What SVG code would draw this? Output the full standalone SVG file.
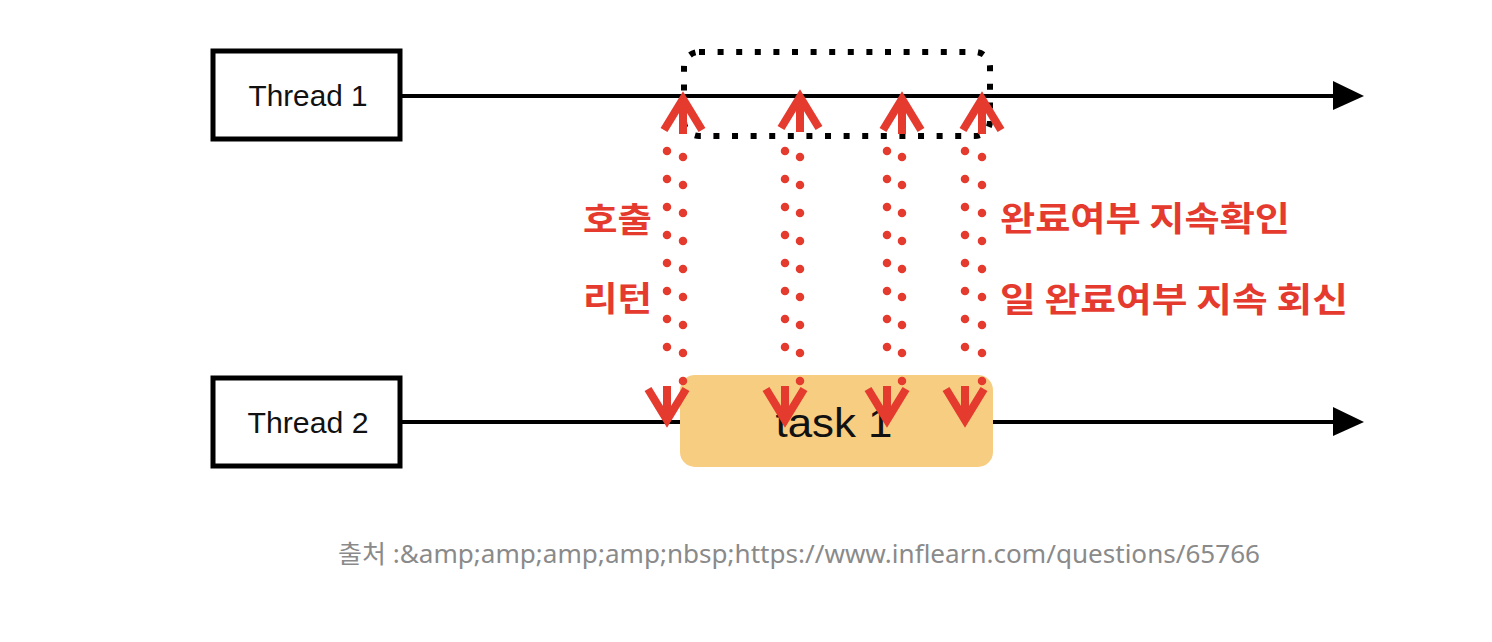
<svg xmlns="http://www.w3.org/2000/svg" width="1492" height="642" viewBox="0 0 1492 642">
<defs>
<style>
.box{fill:#fff;stroke:#000;stroke-width:5}
.tl{font-family:"Liberation Sans",Arial,sans-serif;fill:#111;text-anchor:middle}
.th{stroke:#000;stroke-width:4;fill:none}
.dotr{stroke:#e53a2e;stroke-width:8.5;stroke-linecap:round;stroke-dasharray:0 28;fill:none}
.head{stroke:#e53a2e;stroke-width:8;fill:none;stroke-linejoin:miter}
.lbl{font-family:"Noto Sans CJK KR","Noto Sans",sans-serif;font-weight:bold;font-size:34px;fill:#e53a2e}
</style>
</defs>
<rect width="1492" height="642" fill="#fff"/>
<g id="thread1-line">
<line class="th" x1="400" y1="96" x2="1336" y2="96"/>
<polygon points="1333,81 1364,96 1333,110" fill="#000"/>
</g>
<g id="thread2-line">
<line class="th" x1="400" y1="422" x2="1336" y2="422"/>
<polygon points="1333,407 1364,422 1333,436" fill="#000"/>
</g>
<g id="thread1">
<rect class="box" x="213" y="51" width="187" height="88"/>
<text class="tl" x="308" y="106" font-size="30" textLength="119" lengthAdjust="spacingAndGlyphs">Thread 1</text>
</g>
<g id="thread2">
<rect class="box" x="213" y="378" width="187" height="88"/>
<text class="tl" x="308" y="433" font-size="30" textLength="121" lengthAdjust="spacingAndGlyphs">Thread 2</text>
</g>
<g id="polling-window">
<rect x="684" y="52" width="306" height="84" rx="15" fill="none" stroke="#000" stroke-width="6" stroke-dasharray="6 12.6"/>
</g>
<g id="task1">
<rect x="680" y="375" width="313" height="92" rx="15" fill="#f7cd82"/>
<text class="tl" x="834" y="437" font-size="40" textLength="117" lengthAdjust="spacingAndGlyphs">task 1</text>
</g>
<g id="connectors">
<line class="dotr" x1="683" y1="157" x2="683" y2="409"/>
<path class="head" d="M683,134 V100 M664,130 L683,99 L702,130"/>
<line class="dotr" x1="667" y1="151" x2="667" y2="375"/>
<path class="head" d="M667,386 V420 M648,389 L667,420 L686,389"/>

<line class="dotr" x1="800" y1="157" x2="800" y2="409"/>
<path class="head" d="M800,132 V98 M781,128 L800,97 L819,128"/>
<line class="dotr" x1="785" y1="151" x2="785" y2="375"/>
<path class="head" d="M785,386 V420 M766,389 L785,420 L804,389"/>

<line class="dotr" x1="902" y1="157" x2="902" y2="409"/>
<path class="head" d="M902,134 V100 M883,130 L902,99 L921,130"/>
<line class="dotr" x1="887" y1="151" x2="887" y2="375"/>
<path class="head" d="M887,386 V420 M868,389 L887,420 L906,389"/>

<line class="dotr" x1="982" y1="157" x2="982" y2="409"/>
<path class="head" d="M982,134 V100 M963,130 L982,99 L1001,130"/>
<line class="dotr" x1="965" y1="151" x2="965" y2="375"/>
<path class="head" d="M965,386 V420 M946,389 L965,420 L984,389"/>
</g>
<g id="labels">
<text class="lbl" x="583" y="232" textLength="69" lengthAdjust="spacingAndGlyphs">호출</text>
<text class="lbl" x="583" y="311" textLength="69" lengthAdjust="spacingAndGlyphs">리턴</text>
<text class="lbl" x="1000" y="231" textLength="290" lengthAdjust="spacingAndGlyphs">완료여부 지속확인</text>
<text class="lbl" x="1000" y="312" textLength="348" lengthAdjust="spacingAndGlyphs">일 완료여부 지속 회신</text>
</g>
<g id="caption">
<text x="338" y="563" font-family="'Noto Sans','Noto Sans CJK KR',sans-serif" font-size="25" fill="#8a8a8a" textLength="922" lengthAdjust="spacingAndGlyphs">출처 :&amp;amp;amp;amp;amp;nbsp;https://www.inflearn.com/questions/65766</text>
</g>
</svg>
